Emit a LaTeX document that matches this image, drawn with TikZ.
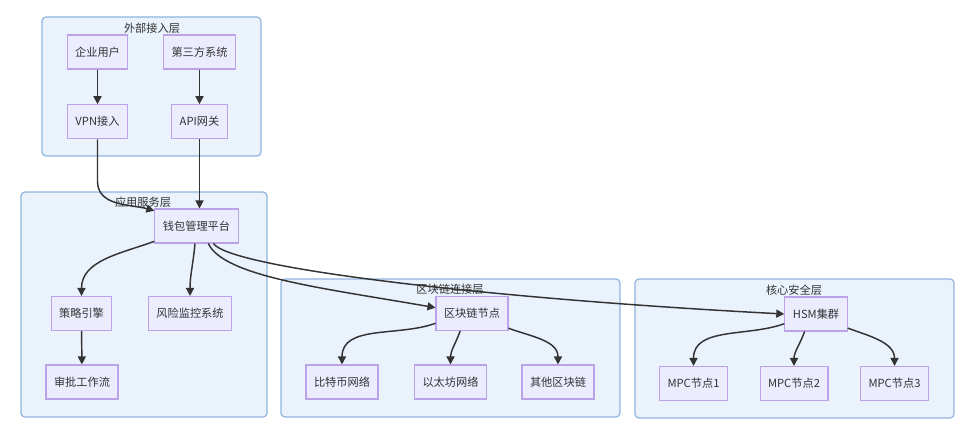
\documentclass[tikz,border=0pt]{standalone}
\usepackage{fontspec}
\newfontfamily\cjk{Noto Sans CJK SC}
\usetikzlibrary{arrows.meta,positioning}
\definecolor{fondocapa}{HTML}{EAF2FC}
\definecolor{bordecapa}{HTML}{8FB4DF}
\definecolor{fondonodo}{HTML}{ECECFF}
\definecolor{bordenodo}{HTML}{BCA2E8}
\definecolor{texto}{HTML}{333333}
\definecolor{linea}{HTML}{333333}
\tikzset{
  capa/.style={
    draw=bordecapa, fill=fondocapa, line width=0.9pt, rounded corners=3pt},
  titulo/.style={
    font=\cjk\fontsize{8.4}{10}\selectfont, text=texto, inner sep=1pt},
  nodo/.style={
    rectangle, draw=bordenodo, fill=fondonodo, line width=0.8pt,
    font=\cjk\fontsize{8.4}{10}\selectfont, text=texto,
    minimum height=25.5pt, inner xsep=6pt},
  flecha/.style={-{Triangle[length=6pt,width=6pt]}, draw=linea, line width=1.1pt}
}

\begin{document}
\begin{tikzpicture}[x=0.75pt,y=0.75pt]
\useasboundingbox (0,0) rectangle (964,426);

% Capas
\draw[capa] (42,270) rectangle (261,409);
\node[titulo] (tExterna) at (152,398) {外部接入层};
\draw[capa] (21,9) rectangle (267,234);
\node[titulo] (tAplicacion) at (143,224) {应用服务层};
\draw[capa] (281,9) rectangle (620,147);
\node[titulo] (tCadena) at (450,137) {区块链连接层};
\draw[capa] (635,8) rectangle (954,147);
\node[titulo] (tSeguridad) at (794,136) {核心安全层};

% Acceso externo
\node[nodo] (usuario) at (97.5,374) {企业用户};
\node[nodo] (tercero) at (199.5,374) {第三方系统};
\node[nodo, below=26pt of usuario] (vpn) {VPN接入};
\node[nodo, below=26pt of tercero] (api) {API网关};

% Servicios
\node[nodo] (cartera) at (196.5,200) {钱包管理平台};
\node[nodo] (politica) at (81.5,112.5) {策略引擎};
\node[nodo] (riesgo) at (190,112.5) {风险监控系统};
\node[nodo] (aprobacion) at (82,44) {审批工作流};

% Cadenas
\node[nodo] (nodocadena) at (472,112.5) {区块链节点};
\node[nodo] (bitcoin) at (342,44) {比特币网络};
\node[nodo] (ethereum) at (450.5,44) {以太坊网络};
\node[nodo] (otras) at (558,44) {其他区块链};

% Seguridad
\node[nodo] (hsm) at (816,112) {HSM集群};
\node[nodo] (mpcA) at (693.5,42.5) {MPC节点1};
\node[nodo] (mpcB) at (794,42.5) {MPC节点2};
\node[nodo] (mpcC) at (894.5,42.5) {MPC节点3};

\draw[flecha] (usuario) -- (vpn);
\draw[flecha] (tercero) -- (api);
\draw[flecha] (vpn.south) -- ++(0,-42) to[out=-90,in=165] (cartera.160);
\draw[flecha] (api.south) -- (api.south |- cartera.north);
\draw[flecha] (cartera.200) to[out=200,in=90] (politica.north);
\draw[flecha] (cartera.265) to[out=265,in=90] (riesgo.north);
\draw[flecha] (politica) -- (aprobacion);
\draw[flecha] (cartera.304) .. controls +(-65:37) and +(170:110) .. (nodocadena.171);
\draw[flecha] (cartera.314) .. controls +(-55:30) and +(177:300) .. (hsm.west);

\draw[flecha] (nodocadena.195) to[out=200,in=90] (bitcoin.north);
\draw[flecha] (nodocadena.236) to[out=250,in=90] (ethereum.north);
\draw[flecha] (nodocadena.338) to[out=-20,in=90] (otras.north);

\draw[flecha] (hsm.197) to[out=200,in=90] (mpcA.north);
\draw[flecha] (hsm.237) to[out=250,in=90] (mpcB.north);
\draw[flecha] (hsm.336) to[out=-20,in=90] (mpcC.north);

\end{tikzpicture}
\end{document}
